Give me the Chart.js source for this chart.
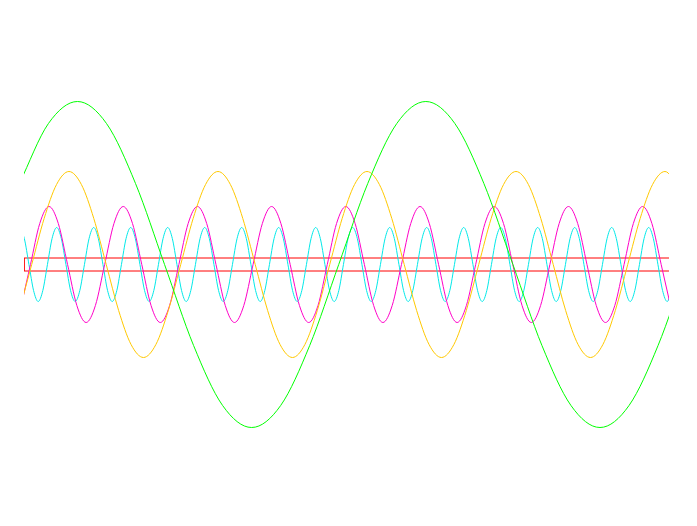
<!DOCTYPE html>
<html>
<head>
<meta charset="utf-8">
<script src="https://cdn.jsdelivr.net/npm/chart.js@4/dist/chart.umd.min.js"></script>
<style>
  html, body { margin: 0; padding: 0; background: #fff; }
  #wrap { width: 697px; height: 526px; }
</style>
</head>
<body>
<div id="wrap"><canvas id="wavesChart" width="697" height="526"></canvas></div>
<script>
// each trace: first sample time, sample step, and the values
const greenStart = -0.046, greenStep = 0.2903;
const greenValues = [0.81, 1.41,
  1.63, 1.41, 0.81, 0, -0.81, -1.41, -1.63, -1.41, -0.81, 0, 0.81, 1.41,
  1.63, 1.41, 0.81, 0, -0.81, -1.41, -1.63, -1.41, -0.81, 0];

const yellowStart = -0.047, yellowStep = 0.12417;
const yellowValues = [-0.46, 0, 0.46, 0.80,
  0.93, 0.80, 0.46, 0, -0.46, -0.80, -0.93, -0.80, -0.46, 0, 0.46, 0.80,
  0.93, 0.80, 0.46, 0, -0.46, -0.80, -0.93, -0.80, -0.46, 0, 0.46, 0.80,
  0.93, 0.80, 0.46, 0, -0.46, -0.80, -0.93, -0.80, -0.46, 0, 0.46, 0.80,
  0.93, 0.80, 0.46, 0, -0.46, -0.80, -0.93, -0.80, -0.46, 0, 0.46, 0.80,
  0.93, 0.80];

const magentaStart = -0.028, magentaStep = 0.09275;
const magentaValues = [-0.41, 0, 0.41,
  0.58, 0.41, 0, -0.41, -0.58, -0.41, 0, 0.41,
  0.58, 0.41, 0, -0.41, -0.58, -0.41, 0, 0.41,
  0.58, 0.41, 0, -0.41, -0.58, -0.41, 0, 0.41,
  0.58, 0.41, 0, -0.41, -0.58, -0.41, 0, 0.41,
  0.58, 0.41, 0, -0.41, -0.58, -0.41, 0, 0.41,
  0.58, 0.41, 0, -0.41, -0.58, -0.41, 0, 0.41,
  0.58, 0.41, 0, -0.41, -0.58, -0.41, 0, 0.41,
  0.58, 0.41, 0, -0.41, -0.58, -0.41, 0, 0.41,
  0.58, 0.41, 0, -0.41];

const cyanStart = -0.043, cyanStep = 0.04625;
const cyanValues = [
  0.37, 0.26, 0, -0.26, -0.37, -0.26, 0, 0.26,
  0.37, 0.26, 0, -0.26, -0.37, -0.26, 0, 0.26,
  0.37, 0.26, 0, -0.26, -0.37, -0.26, 0, 0.26,
  0.37, 0.26, 0, -0.26, -0.37, -0.26, 0, 0.26,
  0.37, 0.26, 0, -0.26, -0.37, -0.26, 0, 0.26,
  0.37, 0.26, 0, -0.26, -0.37, -0.26, 0, 0.26,
  0.37, 0.26, 0, -0.26, -0.37, -0.26, 0, 0.26,
  0.37, 0.26, 0, -0.26, -0.37, -0.26, 0, 0.26,
  0.37, 0.26, 0, -0.26, -0.37, -0.26, 0, 0.26,
  0.37, 0.26, 0, -0.26, -0.37, -0.26, 0, 0.26,
  0.37, 0.26, 0, -0.26, -0.37, -0.26, 0, 0.26,
  0.37, 0.26, 0, -0.26, -0.37, -0.26, 0, 0.26,
  0.37, 0.26, 0, -0.26, -0.37, -0.26, 0, 0.26,
  0.37, 0.26, 0, -0.26, -0.37, -0.26, 0, 0.26,
  0.37, 0.26, 0, -0.26, -0.37, -0.26, 0, 0.26,
  0.37, 0.26, 0, -0.26, -0.37, -0.26, 0, 0.26,
  0.37, 0.26, 0, -0.26, -0.37, -0.26, 0, 0.26,
  0.37, 0.26, 0, -0.26, -0.37, -0.26];

// red band (open on the right)
const bandX = [6.5, 0, 0, 6.5];
const bandY = [0.065, 0.065, -0.065, -0.065];

const xMin = 0, xMax = 6.45;
const yMin = -2.45, yMax = 2.45;

function toPoints(start, step, values) {
    return values.map((v, i) => ({ x: start + i * step, y: v }));
}

function wave(data, color) {
    return {
        data: data,
        borderColor: color,
        borderWidth: 1,
        pointRadius: 0,
        fill: false,
        cubicInterpolationMode: 'monotone',
    };
}

const ctx = document.getElementById('wavesChart').getContext('2d');
const wavesChart = new Chart(ctx, {
    type: 'line',
    data: {
        datasets: [
            wave(toPoints(greenStart, greenStep, greenValues), '#00ff00'),
            wave(toPoints(yellowStart, yellowStep, yellowValues), '#ffc800'),
            wave(toPoints(magentaStart, magentaStep, magentaValues), '#ff00c8'),
            wave(toPoints(cyanStart, cyanStep, cyanValues), '#00e8e8'),
            {
                data: bandX.map((x, i) => ({ x: x, y: bandY[i] })),
                borderColor: '#ff0000',
                borderWidth: 1,
                pointRadius: 0,
                fill: false,
                tension: 0,
            },
        ]
    },
    options: {
        responsive: false,
        animation: false,
        layout: { padding: { left: 24, right: 28, top: 19.5, bottom: 16.5 } },
        plugins: { legend: { display: false }, tooltip: { enabled: false } },
        scales: {
            x: { type: 'linear', min: xMin, max: xMax, display: false },
            y: { type: 'linear', min: yMin, max: yMax, display: false },
        },
    },
});
</script>
</body>
</html>
